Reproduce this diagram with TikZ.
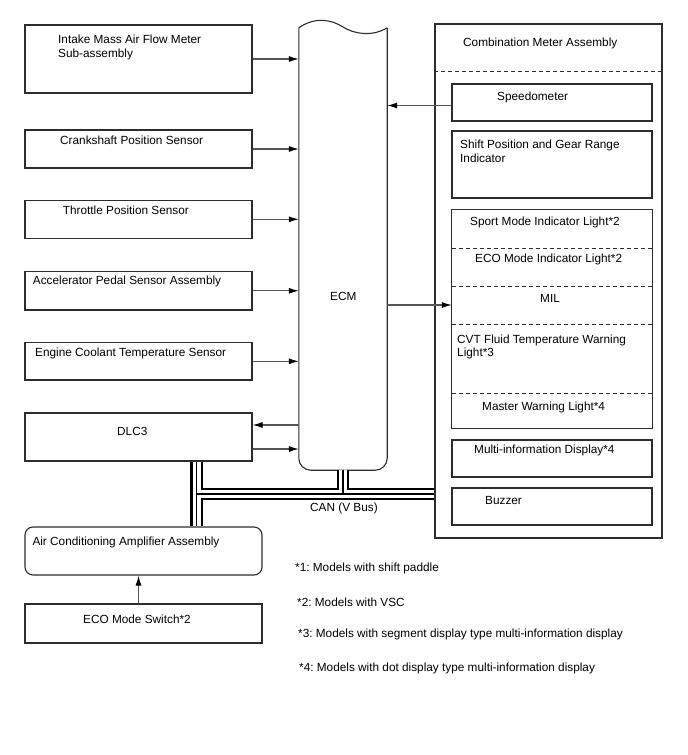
\documentclass[tikz,border=0pt]{standalone}
\usepackage{fontspec}
\setmainfont{Liberation Sans}
\usepackage{xcolor}
\usepackage{tikz}
\usetikzlibrary{arrows.meta, positioning}
\definecolor{framegray}{RGB}{45, 45, 45}
\definecolor{wiregray}{RGB}{85, 85, 85}
\frenchspacing

\begin{document}
\begin{tikzpicture}[
  x=1pt, y=-1pt,
  box/.style={draw=framegray, line width=1.1pt, inner sep=0pt, minimum width=227pt},
  meterbox/.style={draw=framegray, line width=1.1pt, inner sep=0pt, minimum width=200pt},
  row/.style={inner sep=0pt, minimum width=200pt},
  txt/.style={font=\fontsize{11.8}{13.8}\selectfont, inner sep=0pt, align=left, anchor=west},
  arr/.style={-{Latex[length=10pt, width=6pt, color=black]}, wiregray, line width=1.1pt},
  sep/.style={framegray, dash pattern=on 4pt off 3pt, line width=0.9pt}]
  \useasboundingbox (0,0) rectangle (688,755);
  % sensors and ECM inputs
  \node[box, minimum height=68pt]   (maf) at (138.5,59)    {};
  \node[box, minimum height=38pt]   (ckp) at (138.5,149)   {};
  \node[box, minimum height=37.5pt] (tps) at (138.5,219.3) {};
  \node[box, minimum height=38.3pt] (app) at (138.5,290.8) {};
  \node[box, minimum height=37.3pt] (ect) at (138.5,361.3) {};
  \node[box, minimum height=48pt]   (dlc) at (138.5,437)   {};
  \node[box, minimum width=237pt, minimum height=48pt, rounded corners=8pt] (aca) at (143.5,551) {};
  \node[box, minimum width=237pt, minimum height=39pt] (ecosw) at (143.5,623.5) {};
  \node[txt] (maft)  at (58,47.5)    {Intake Mass Air Flow Meter\\Sub-assembly};
  \node[txt] (ckpt)  at (60,140)     {Crankshaft Position Sensor};
  \node[txt] (tpst)  at (62.7,210.7) {Throttle Position Sensor};
  \node[txt] (appt)  at (32.7,281.7) {Accelerator Pedal Sensor Assembly};
  \node[txt] (ectt)  at (35,353)     {Engine Coolant Temperature Sensor};
  \node[txt] (dlct)  at (117,431)    {DLC3};
  \node[txt] (acat)  at (32.3,542)   {Air Conditioning Amplifier Assembly};
  \node[txt] (ecoswt) at (83,619)    {ECO Mode Switch*2};
  % ECM
  \node[inner sep=0pt, minimum width=88pt, minimum height=442pt] (ecm) at (343,249) {};
  \draw[framegray, line width=1.1pt, rounded corners=12pt]
    (ecm.north west) -- (ecm.south west) -- (ecm.south east) -- (ecm.north east);
  \draw[framegray, line width=1.1pt]
    (ecm.north west) .. controls (316,16) and (332,20) .. (343,27)
    .. controls (354,34) and (372,37) .. (ecm.north east);
  \node[txt] (ecmt) at (330,296) {ECM};
  % combination meter
  \node[box, minimum height=514pt] (cma) at (548.5,281) {};
  \draw[sep] ([yshift=-48pt]cma.north west) -- ([yshift=-48pt]cma.north east);
  \node[txt] (cmat) at (463,43) {Combination Meter Assembly};
  \node[meterbox, minimum height=37pt] (spd)   at (552,102.5) {};
  \node[meterbox, minimum height=67pt] (shift) at (552,164.5) {};
  \node[row, minimum height=38pt] (sport)  at (552,229)   {};
  \node[row, minimum height=38pt] (ecoind) at (552,267)   {};
  \node[row, minimum height=38pt] (mil)    at (552,305)   {};
  \node[row, minimum height=69pt] (cvt)    at (552,358.5) {};
  \node[row, minimum height=35pt] (mwl)    at (552,410.5) {};
  \draw[framegray, line width=1.1pt] (sport.north west) rectangle (mwl.south east);
  \draw[sep] (sport.south west) -- (sport.south east);
  \draw[sep] (ecoind.south west) -- (ecoind.south east);
  \draw[sep] (mil.south west) -- (mil.south east);
  \draw[sep] (cvt.south west) -- (cvt.south east);
  \node[meterbox, minimum height=37pt] (mid) at (552,458.5) {};
  \node[meterbox, minimum height=37pt] (buz) at (552,506.5) {};
  \node[txt] (spdt)    at (497,97)    {Speedometer};
  \node[txt] (shiftt)  at (460,151.5) {Shift Position and Gear Range\\Indicator};
  \node[txt] (sportt)  at (470,222)   {Sport Mode Indicator Light*2};
  \node[txt] (ecoindt) at (475,259)   {ECO Mode Indicator Light*2};
  \node[txt] (milt)    at (540,298)   {MIL};
  \node[txt] (cvtt)    at (457,347)   {CVT Fluid Temperature Warning\\Light*3};
  \node[txt] (mwlt)    at (482,407)   {Master Warning Light*4};
  \node[txt] (midt)    at (474,450)   {Multi-information Display*4};
  \node[txt] (buzt)    at (485,500)   {Buzzer};
  % signal lines
  \draw[arr] (maf.east) -- (maf.east -| ecm.west);
  \draw[arr] (ckp.east) -- (ckp.east -| ecm.west);
  \draw[arr] (tps.east) -- (tps.east -| ecm.west);
  \draw[arr] (app.east) -- (app.east -| ecm.west);
  \draw[arr] (ect.east) -- (ect.east -| ecm.west);
  \draw[arr] ([yshift=12pt]dlc.east -| ecm.west) -- ([yshift=12pt]dlc.east);
  \draw[arr] ([yshift=-12pt]dlc.east) -- ([yshift=-12pt]dlc.east -| ecm.west);
  \draw[arr] ([yshift=-3pt]spd.west) -- ([yshift=-3pt]spd.west -| ecm.east);
  \draw[arr] (mil.west -| ecm.east) -- (mil.west);
  \draw[arr] ([xshift=-5pt]ecosw.north) -- ([xshift=-5pt]aca.south);
  % CAN bus
  \coordinate (canj) at (196.5,494);
  \foreach \w/\c in {12.5/black, 8/white, 1.7/black}
    \draw[line width=\w pt, color=\c]
      (canj |- dlc.south) -- (canj |- aca.north)
      (canj) -- (canj -| cma.west)
      (ecm.south) -- (ecm.south |- canj);
  \node[txt] (cant) at (310,508) {CAN (V Bus)};
  % notes
  \node[txt] (note1) at (295,568) {*1: Models with shift paddle};
  \node[txt] (note2) at (297,602) {*2: Models with VSC};
  \node[txt] (note3) at (298,634) {*3: Models with segment display type multi-information display};
  \node[txt] (note4) at (299,668) {*4: Models with dot display type multi-information display};
\end{tikzpicture}
\end{document}
